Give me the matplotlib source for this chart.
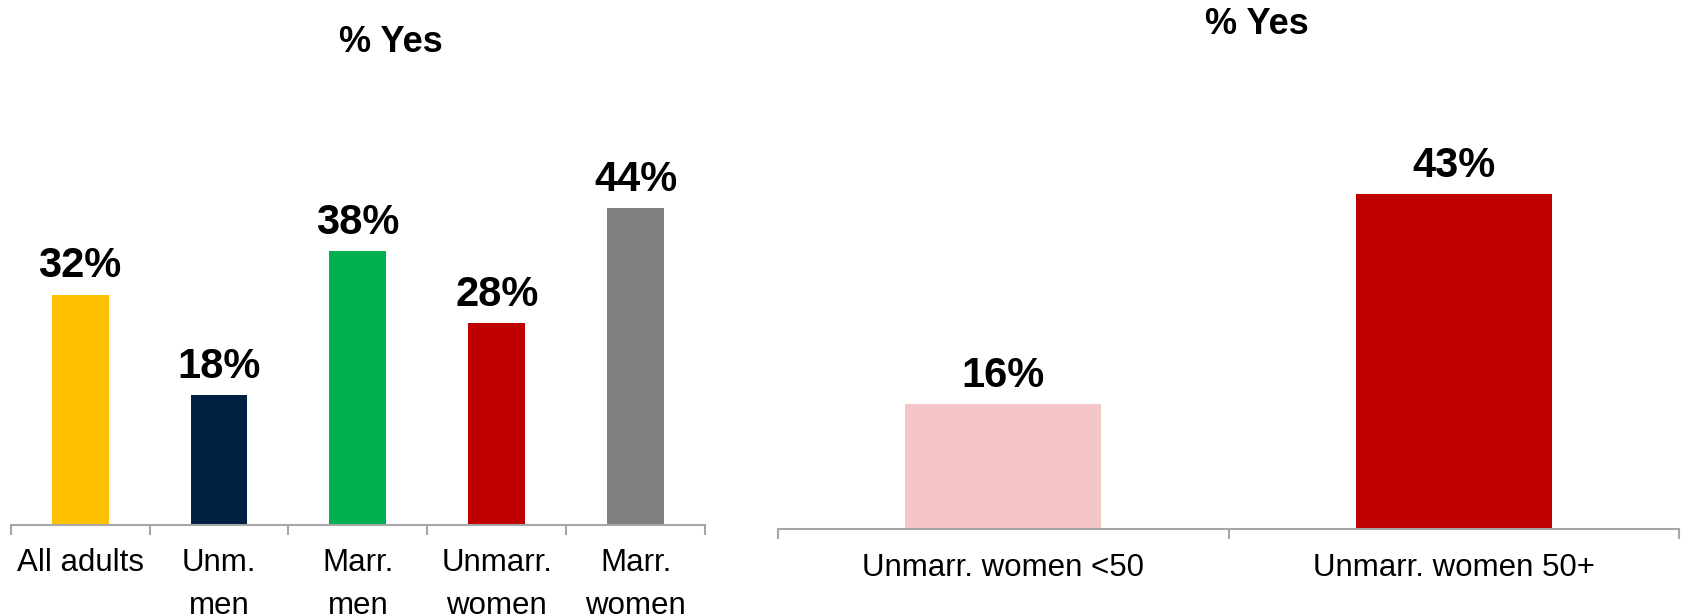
import matplotlib.pyplot as plt
import numpy as np

plt.rcParams['font.family'] = ['Liberation Sans', 'DejaVu Sans']

# left chart data
groups = ['All adults', 'Unm.\nmen', 'Marr.\nmen', 'Unmarr.\nwomen', 'Marr.\nwomen']
yes_pct = [32, 18, 38, 28, 44]
group_colors = ['#FFC000', '#002041', '#00B050', '#C00000', '#808080']

# right chart data
women_groups = ['Unmarr. women <50', 'Unmarr. women 50+']
women_pct = [16, 43]
women_colors = ['#F5C6C7', '#C00000']

axis_gray = '#A6A6A6'

fig = plt.figure(figsize=(16.82, 6.15), dpi=100)
W, H = 1682, 615


def style_axes(ax, n):
    for s in ['top', 'right', 'left']:
        ax.spines[s].set_visible(False)
    ax.spines['bottom'].set_color(axis_gray)
    ax.spines['bottom'].set_linewidth(1.5)
    ax.set_yticks([])
    ax.set_xlim(-0.5, n - 0.5)
    ax.set_xticks(np.arange(n))
    ax.set_xticks(np.arange(n + 1) - 0.5, minor=True)
    ax.tick_params(axis='x', which='major', length=0, pad=17, labelsize=22.5)
    ax.tick_params(axis='x', which='minor', length=7, width=1.5,
                   color=axis_gray, direction='out')


def add_labels(ax, bars, vals):
    for b, v in zip(bars, vals):
        ax.annotate(f'{v}%', (b.get_x() + b.get_width() / 2, b.get_height()),
                    xytext=(0, 6), textcoords='offset points',
                    ha='center', va='bottom', fontsize=30, fontweight='bold')


# left panel: axis from x=10.7 to 705, baseline y=524.6
ax1 = fig.add_axes([10.7 / W, (H - 524.6) / H, (705 - 10.7) / W, (524.6 - 100) / H])
bars1 = ax1.bar(range(len(groups)), yes_pct, width=0.41, color=group_colors)
ax1.set_ylim(0, 424.6 / 7.19)
style_axes(ax1, len(groups))
ax1.set_xticklabels(groups, linespacing=1.55)
add_labels(ax1, bars1, yes_pct)

# right panel: axis from x=778 to 1679, baseline y=529
ax2 = fig.add_axes([778 / W, (H - 529) / H, (1679 - 778) / W, (529 - 100) / H])
bars2 = ax2.bar(range(len(women_groups)), women_pct, width=0.436, color=women_colors)
ax2.set_ylim(0, 429 / 7.79)
style_axes(ax2, len(women_groups))
ax2.set_xticklabels(women_groups)
add_labels(ax2, bars2, women_pct)

fig.text(391 / W, 1 - 43 / H, '% Yes', ha='center', va='center',
         fontsize=26, fontweight='bold')
fig.text(1257 / W, 1 - 25 / H, '% Yes', ha='center', va='center',
         fontsize=26, fontweight='bold')

fig.savefig('out.png', dpi=100)
